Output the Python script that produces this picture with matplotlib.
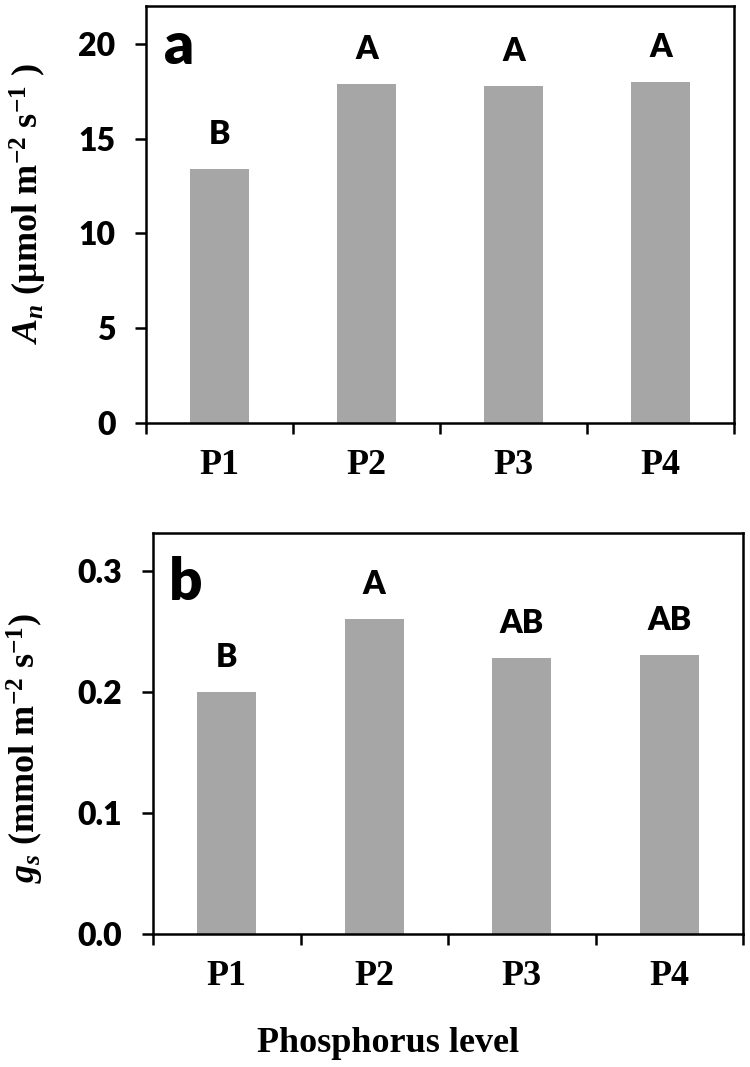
import numpy as np
import matplotlib
matplotlib.use('Agg')
from matplotlib import pyplot as plt
from matplotlib.ticker import FixedLocator

# data
levels = ['P1', 'P2', 'P3', 'P4']
an_vals = [13.4, 17.9, 17.8, 18.0]
an_letters = ['B', 'A', 'A', 'A']
gs_vals = [0.200, 0.260, 0.228, 0.230]
gs_letters = ['B', 'A', 'AB', 'AB']

an_ticks = [0, 5, 10, 15, 20]
gs_ticks = [0.0, 0.1, 0.2, 0.3]

plt.rcParams['mathtext.fontset'] = 'custom'
plt.rcParams['mathtext.rm'] = 'Liberation Serif:bold'
plt.rcParams['mathtext.it'] = 'Liberation Serif:italic:bold'
plt.rcParams['mathtext.bf'] = 'Liberation Serif:bold'

BAR = '#a6a6a6'
SANS = 'Lato'
SERIF = 'Liberation Serif'
HEAVY = 'heavy'

fig = plt.figure(figsize=(7.5, 10.67), dpi=100)
ax1 = fig.add_axes([0.1947, 0.6036, 0.784, 0.3908])
ax2 = fig.add_axes([0.204, 0.1246, 0.7867, 0.3758])


def panel(ax, vals, letters, ticks, ylim, fmt, tag, tag_y):
    x = np.arange(len(levels))
    ax.bar(x, vals, width=0.4, color=BAR, zorder=2)
    for i, (v, l) in enumerate(zip(vals, letters)):
        ax.annotate(l, (x[i], v), xytext=(0, 18), textcoords='offset points',
                    ha='center', va='baseline', fontsize=23,
                    fontweight=HEAVY, family=SANS)
    ax.set_xlim(-0.5, len(levels) - 0.5)
    ax.set_ylim(*ylim)
    ax.set_yticks(ticks)
    ax.set_yticklabels([fmt.format(t) for t in ticks], fontsize=23,
                       fontweight=HEAVY, family=SANS)
    ax.set_xticks(x)
    ax.set_xticklabels(levels, fontsize=26, fontweight='bold', family=SERIF)
    ax.xaxis.set_minor_locator(FixedLocator(np.arange(-0.5, len(levels), 1.0)))
    ax.tick_params(axis='x', which='major', length=0, pad=19)
    ax.tick_params(axis='x', which='minor', length=8, width=1.8, direction='out')
    ax.tick_params(axis='y', length=8, width=1.8, direction='out', pad=14)
    for s in ax.spines.values():
        s.set_linewidth(1.8)
    ax.text(0.056, tag_y, tag, transform=ax.transAxes, fontsize=42,
            fontweight=HEAVY, family=SANS, ha='center', va='baseline')


panel(ax1, an_vals, an_letters, an_ticks, (0, 22), '{:.0f}', 'a', 0.861)
panel(ax2, gs_vals, gs_letters, gs_ticks, (0, 0.331), '{:.1f}', 'b', 0.834)

ax1.set_ylabel(r'$A_n$ (μmol m$^{-2}$ s$^{-1}$ )', fontsize=26,
               fontweight='bold', family=SERIF, va='center')
ax1.yaxis.set_label_coords(-0.20, 0.526)
ax2.set_ylabel(r'$g_s$ (mmol m$^{-2}$ s$^{-1}$)', fontsize=26,
               fontweight='bold', family=SERIF, va='center')
ax2.yaxis.set_label_coords(-0.217, 0.465)
ax2.set_xlabel('Phosphorus level', fontsize=26, fontweight='bold',
               family=SERIF, va='baseline')
ax2.xaxis.set_label_coords(0.398, -0.294)

fig.savefig('out.png', dpi=100)
